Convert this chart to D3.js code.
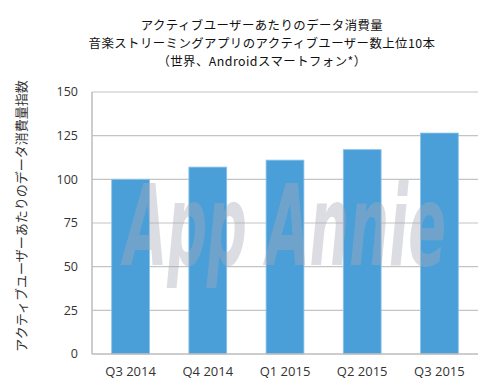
<!DOCTYPE html>
<html>
<head>
<meta charset="utf-8">
<script src="https://cdn.jsdelivr.net/npm/d3@7"></script>
<style>
  body { margin: 0; background: #fff; }
  text { font-family: "Noto Sans CJK JP", "Noto Sans", sans-serif; }
</style>
</head>
<body>
<svg width="500" height="384"></svg>
<script>
var svg = d3.select("svg"),
    width = +svg.attr("width"),
    height = +svg.attr("height");

// data
var quarters = ["Q3 2014", "Q4 2014", "Q1 2015", "Q2 2015", "Q3 2015"];
var usageIndex = [100, 107, 111, 117, 126.5];
var yTicks = [0, 25, 50, 75, 100, 125, 150];
var titleLines = [
  "アクティブユーザーあたりのデータ消費量",
  "音楽ストリーミングアプリのアクティブユーザー数上位10本",
  "（世界、Androidスマートフォン*）"
];
var yTitle = "アクティブユーザーあたりのデータ消費量指数";

var margin = { top: 92, right: 22, bottom: 30, left: 92 };
var w = width - margin.left - margin.right,
    h = 354 - margin.top;

var x = d3.scaleBand().domain(quarters).range([0, w]).paddingInner(0.51).paddingOuter(0.255);
var y = d3.scaleLinear().domain([0, 150]).range([h, 0]);

var g = svg.append("g").attr("transform", "translate(" + margin.left + "," + margin.top + ")");

// gridlines
g.selectAll(".grid").data(yTicks.slice(1)).enter().append("line")
  .attr("x1", 0).attr("x2", w)
  .attr("y1", function(d) { return y(d); })
  .attr("y2", function(d) { return y(d); })
  .attr("stroke", "#c4c4c4").attr("stroke-width", 1.2);

// bars
g.selectAll(".bar").data(usageIndex).enter().append("rect")
  .attr("x", function(d, i) { return x(quarters[i]); })
  .attr("y", function(d) { return y(d); })
  .attr("width", x.bandwidth())
  .attr("height", function(d) { return h - y(d); })
  .attr("fill", "#4a9fd8")
  .attr("stroke", "#8cc3ea").attr("stroke-width", 0.8);

// watermark, squeezed to span about 320px
var wm = g.append("text")
  .attr("x", 0).attr("y", 0)
  .style("font-family", "'DejaVu Sans Condensed', sans-serif")
  .style("font-style", "italic").style("font-weight", "bold")
  .style("font-size", "112px")
  .attr("fill", "#a9abb8").attr("opacity", 0.4)
  .text("App Annie");
var wmLen = wm.node().getComputedTextLength();
wm.attr("transform", "translate(32,173) scale(" + (322 / wmLen) + ",1)");

// axis lines
g.append("line").attr("x1", 0).attr("x2", 0).attr("y1", 0).attr("y2", h)
  .attr("stroke", "#bdbdbd").attr("stroke-width", 1.5);
g.append("line").attr("x1", 0).attr("x2", w).attr("y1", h).attr("y2", h)
  .attr("stroke", "#bdbdbd").attr("stroke-width", 1.5);

// y tick labels
g.selectAll(".ytick").data(yTicks).enter().append("text")
  .attr("x", -14).attr("y", function(d) { return y(d); })
  .attr("dy", "0.35em").attr("text-anchor", "end")
  .style("font-family", "'Open Sans', sans-serif")
  .style("font-size", "12.5px").attr("fill", "#333")
  .text(function(d) { return d; });

// x labels
g.selectAll(".xtick").data(quarters).enter().append("text")
  .attr("x", function(d) { return x(d) + x.bandwidth() / 2; })
  .attr("y", h + 22).attr("text-anchor", "middle")
  .style("font-family", "'Open Sans', sans-serif")
  .style("font-size", "13px").attr("fill", "#333")
  .text(function(d) { return d; });

// title
svg.selectAll(".title").data(titleLines).enter().append("text")
  .attr("x", 262).attr("y", function(d, i) { return 30 + i * 18; })
  .attr("text-anchor", "middle")
  .style("font-size", "12.4px").style("letter-spacing", "0.45px").attr("fill", "#111")
  .text(function(d) { return d; });

// y axis title
svg.append("text")
  .attr("transform", "translate(26,216) rotate(-90)")
  .attr("text-anchor", "middle")
  .style("font-size", "13px").attr("fill", "#333")
  .text(yTitle);
</script>
</body>
</html>
